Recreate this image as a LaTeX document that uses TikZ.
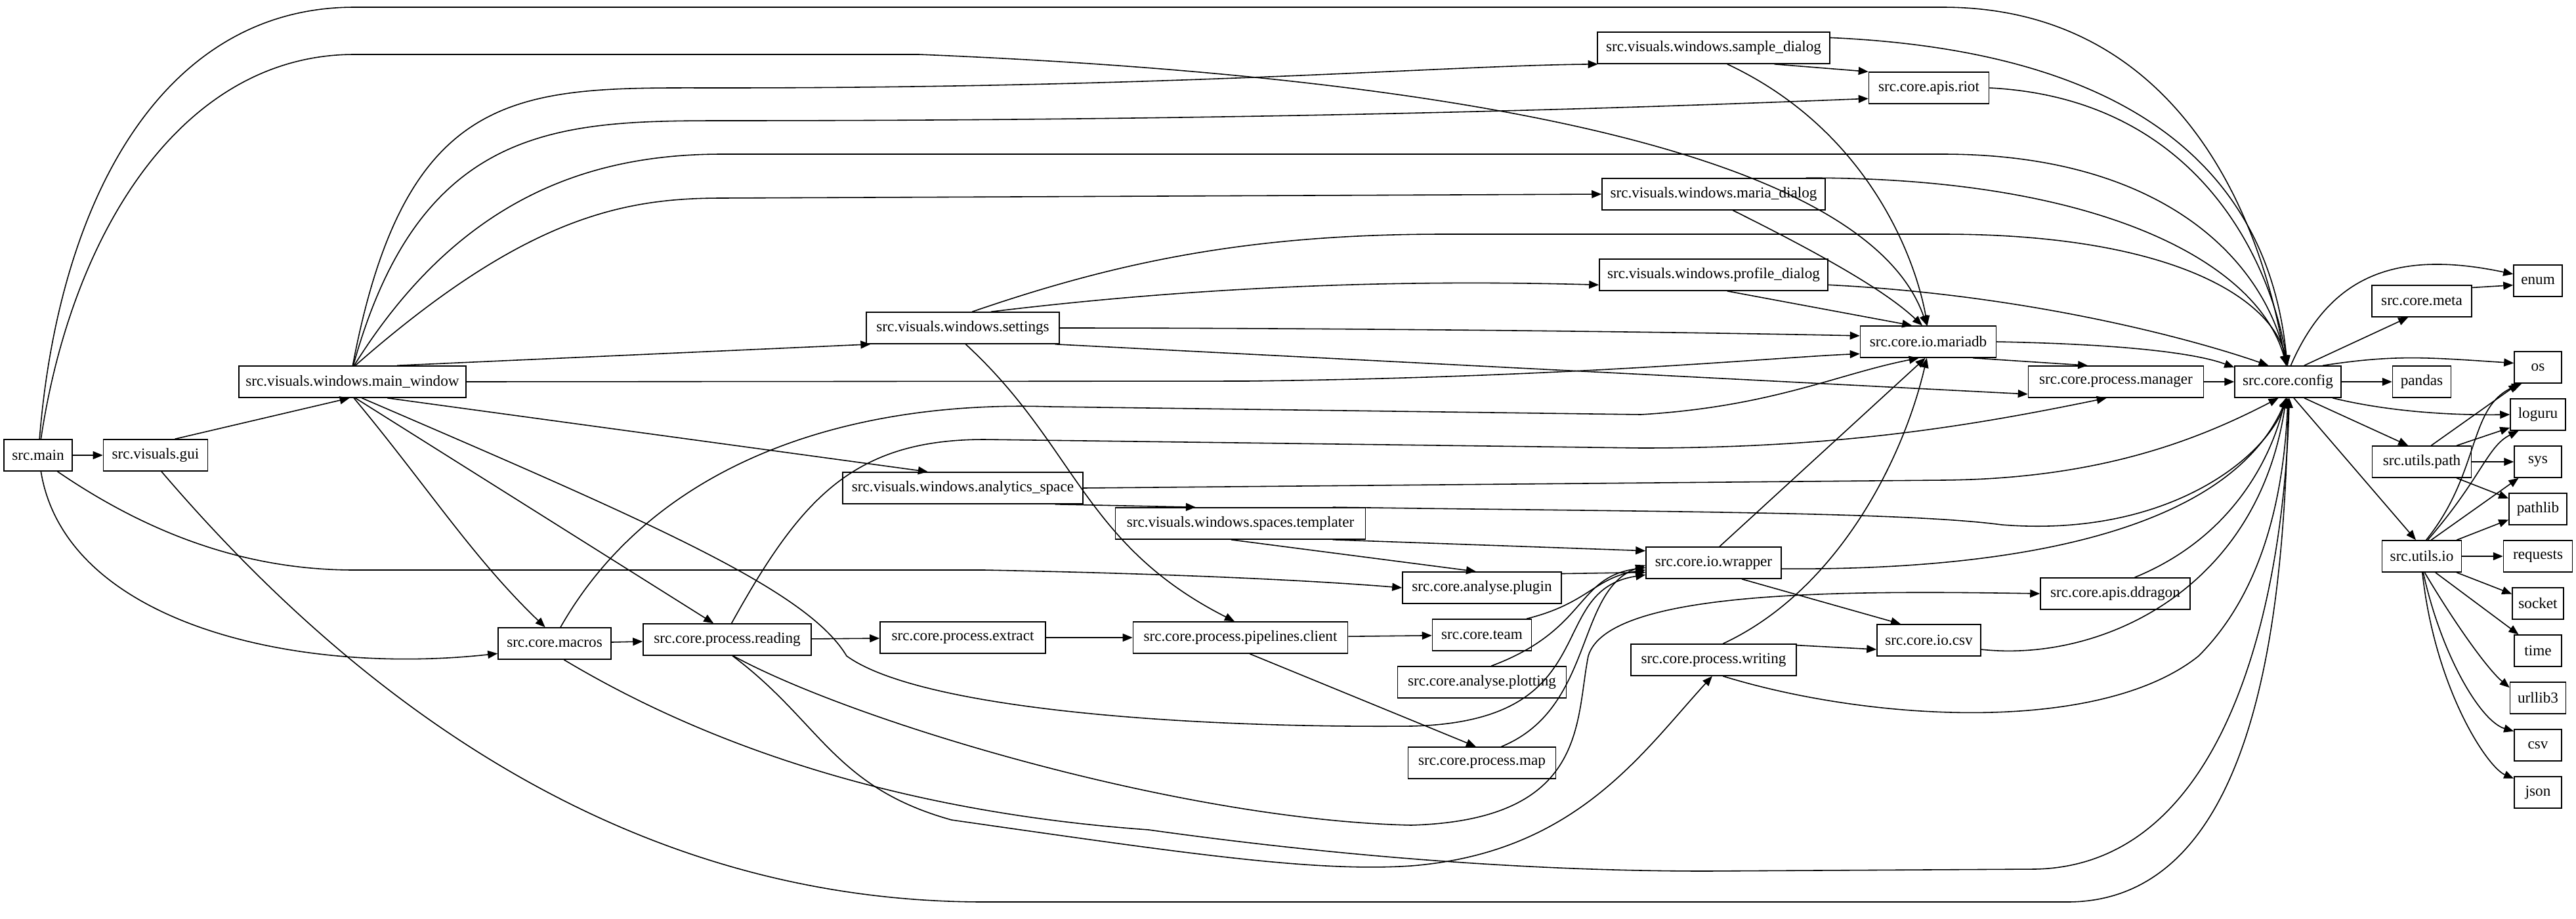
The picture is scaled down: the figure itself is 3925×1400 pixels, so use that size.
\documentclass[tikz,border=0pt]{standalone}
\usepackage{fontspec}
\setmainfont{Liberation Serif}
\usetikzlibrary{arrows.meta}
\begin{document}
\begin{tikzpicture}[x=0.02cm,y=-0.02cm,
  n/.style={draw,line width=0.9pt,minimum height=0.96cm,inner sep=0pt,font=\fontsize{13.2}{15}\selectfont},
  w/.style={minimum width=#1*0.02cm},
  e/.style={-{Triangle[length=0.3cm,width=0.24cm]},line width=0.9pt}]
\useasboundingbox (0,0) rectangle (3925,1400);
\node[n,w=104] (main) at (58,694) {src.main};
\node[n,w=159] (gui) at (237,694) {src.visuals.gui};
\node[n,w=346] (mainw) at (537,582) {src.visuals.windows.main\_window};
\node[n,w=294] (settings) at (1467,500) {src.visuals.windows.settings};
\node[n,w=366] (analytics) at (1467,744) {src.visuals.windows.analytics\_space};
\node[n,w=172] (macros) at (845,981) {src.core.macros};
\node[n,w=256] (reading) at (1108,975) {src.core.process.reading};
\node[n,w=252] (extract) at (1467,972) {src.core.process.extract};
\node[n,w=381] (templater) at (1890,798) {src.visuals.windows.spaces.templater};
\node[n,w=327] (client) at (1890,972) {src.core.process.pipelines.client};
\node[n,w=354] (sample) at (2611,73) {src.visuals.windows.sample\_dialog};
\node[n,w=183] (riot) at (2939,134) {src.core.apis.riot};
\node[n,w=340] (maria) at (2611,296) {src.visuals.windows.maria\_dialog};
\node[n,w=348] (profile) at (2611,419) {src.visuals.windows.profile\_dialog};
\node[n,w=207] (mariadb) at (2938,521) {src.core.io.mariadb};
\node[n,w=267] (manager) at (3224,582) {src.core.process.manager};
\node[n,w=162] (config) at (3486,582) {src.core.config};
\node[n,w=152] (meta) at (3690,459) {src.core.meta};
\node[n,w=74] (enum) at (3867,428) {enum};
\node[n,w=72] (os) at (3867,560) {os};
\node[n,w=89] (pandas) at (3690,582) {pandas};
\node[n,w=84] (loguru) at (3867,632) {loguru};
\node[n,w=151] (upath) at (3690,704) {src.utils.path};
\node[n,w=72] (sys) at (3867,704) {sys};
\node[n,w=88] (pathlib) at (3867,776) {pathlib};
\node[n,w=121] (uio) at (3690,848) {src.utils.io};
\node[n,w=105] (requests) at (3867,848) {requests};
\node[n,w=78] (socket) at (3867,920) {socket};
\node[n,w=72] (time) at (3867,992) {time};
\node[n,w=85] (urllib) at (3867,1064) {urllib3};
\node[n,w=72] (csvm) at (3867,1136) {csv};
\node[n,w=72] (json) at (3867,1208) {json};
\node[n,w=206] (wrapper) at (2611,858) {src.core.io.wrapper};
\node[n,w=242] (plugin) at (2258,896) {src.core.analyse.plugin};
\node[n,w=151] (team) at (2258,968) {src.core.team};
\node[n,w=257] (plotting) at (2258,1040) {src.core.analyse.plotting};
\node[n,w=225] (pmap) at (2258,1163) {src.core.process.map};
\node[n,w=252] (writing) at (2611,1006) {src.core.process.writing};
\node[n,w=158] (iocsv) at (2939,976) {src.core.io.csv};
\node[n,w=228] (ddragon) at (3223,905) {src.core.apis.ddragon};

% src.main
\draw[e] (main.85) .. controls (90,300) and (250,11) .. (540,11) -- (2960,11) .. controls (3300,11) and (3440,300) .. (config.97);
\draw[e] (main.80) .. controls (110,350) and (280,83) .. (540,83) -- (1400,83) .. controls (2300,120) and (2850,250) .. (mariadb.95);
\draw[e] (main) -- (gui);
\draw[e] (main.-40) .. controls (250,830) and (400,869) .. (540,869) -- (1500,869) .. controls (1800,875) and (2000,885) .. (plugin.west);
\draw[e] (main.-80) .. controls (100,950) and (450,1030) .. (macros.-170);
% gui
\draw[e] (gui.40) -- (mainw.-100);
\draw[e] (gui.-70) .. controls (700,1250) and (1150,1375) .. (1500,1375) -- (3150,1375) .. controls (3450,1375) and (3480,900) .. (config.-88);
% main_window
\draw[e] (mainw.89) .. controls (620,120) and (800,134) .. (1100,134) .. controls (1800,134) and (2200,100) .. (sample.-172);
\draw[e] (mainw.87) .. controls (640,190) and (850,184) .. (1100,184) .. controls (2000,184) and (2600,160) .. (riot.-170);
\draw[e] (mainw.84) .. controls (700,300) and (900,235) .. (1100,235) -- (2960,235) .. controls (3300,235) and (3450,400) .. (config.93);
\draw[e] (mainw.80) .. controls (800,330) and (950,302) .. (1100,302) -- (maria.west);
\draw[e] (mainw.east) -- (1900,581) .. controls (2400,575) and (2700,545) .. (mariadb.-170);
\draw[e] (mainw.20) -- (settings.-170);
\draw[e] (mainw.-25) -- (analytics.155);
\draw[e] (mainw.-85) .. controls (650,740) and (720,850) .. (macros.120);
\draw[e] (mainw.-80) -- (reading.130);
\draw[e] (mainw.-60) .. controls (1000,800) and (1230,900) .. (1290,1000) .. controls (1400,1080) and (1800,1110) .. (2150,1107) .. controls (2450,1100) and (2350,900) .. (wrapper.-170);
% settings
\draw[e] (settings.60) .. controls (1700,400) and (1900,357) .. (2200,357) -- (2960,357) .. controls (3300,357) and (3460,450) .. (config.90);
\draw[e] (settings.30) .. controls (1800,440) and (2100,425) .. (profile.-175);
\draw[e] (settings.east) .. controls (2000,500) and (2500,505) .. (mariadb.175);
\draw[e] (settings.-10) -- (manager.-172);
\draw[e] (settings.-80) .. controls (1640,680) and (1650,830) .. (client.110);
% analytics
\draw[e] (analytics.east) -- (2960,732) .. controls (3200,730) and (3350,670) .. (config.-120);
\draw[e] (analytics.-10) -- (templater.160);
% templater
\draw[e] (templater.10) .. controls (2500,780) and (2900,780) .. (3050,800) .. controls (3300,820) and (3450,700) .. (config.-92);
\draw[e] (templater.-10) -- (wrapper.170);
\draw[e] (templater.-120) -- (plugin.110);
% macros
\draw[e] (macros.70) .. controls (1000,700) and (1300,610) .. (1600,620) -- (2500,632) .. controls (2700,620) and (2800,570) .. (mariadb.-120);
\draw[e] (macros) -- (reading);
\draw[e] (macros.-60) .. controls (1100,1150) and (1400,1240) .. (1750,1265) .. controls (2000,1300) and (2300,1328) .. (2600,1328) -- (3100,1325) .. controls (3400,1320) and (3480,900) .. (config.-85);
% reading
\draw[e] (reading) -- (extract);
\draw[e] (reading.75) .. controls (1220,760) and (1300,670) .. (1500,670) -- (2500,683) .. controls (2800,683) and (3000,650) .. (manager.-120);
\draw[e] (reading.-70) .. controls (1300,1100) and (1800,1250) .. (2150,1258) .. controls (2420,1250) and (2400,1100) .. (2420,1000) .. controls (2450,900) and (2800,900) .. (ddragon.west);
\draw[e] (reading.-72) .. controls (1250,1100) and (1270,1200) .. (1450,1250) .. controls (1800,1300) and (2000,1330) .. (2150,1320) .. controls (2400,1300) and (2500,1150) .. (writing.-95);
\draw[e] (extract) -- (client);
\draw[e] (client) -- (team);
\draw[e] (client.-60) -- (pmap.110);
% wrapper inputs
\draw[e] (plugin.10) -- (wrapper.-172);
\draw[e] (team.20) .. controls (2420,920) and (2430,880) .. (wrapper.-174);
\draw[e] (plotting.60) .. controls (2420,960) and (2400,880) .. (wrapper.-176);
\draw[e] (pmap.40) .. controls (2430,1080) and (2400,900) .. (wrapper.-178);
% wrapper
\draw[e] (wrapper.70) -- (mariadb.-100);
\draw[e] (wrapper.-5) .. controls (3100,870) and (3400,800) .. (config.-94);
\draw[e] (wrapper.-30) -- (iocsv.150);
% writing
\draw[e] (writing.60) .. controls (2800,900) and (2900,700) .. (mariadb.-95);
\draw[e] (writing.10) -- (iocsv.-170);
\draw[e] (writing.-60) .. controls (2850,1100) and (3200,1120) .. (3350,1000) .. controls (3450,900) and (3480,750) .. (config.-90);
\draw[e] (iocsv.-10) .. controls (3200,1010) and (3440,900) .. (config.-96);
\draw[e] (ddragon.40) .. controls (3400,820) and (3460,700) .. (config.-98);
% dialogs
\draw[e] (sample.-15) -- (riot.165);
\draw[e] (sample.5) .. controls (3300,80) and (3460,300) .. (config.92);
\draw[e] (sample.-50) .. controls (2850,200) and (2920,400) .. (mariadb.93);
\draw[e] (riot.east) .. controls (3350,150) and (3460,400) .. (config.91);
\draw[e] (maria.-40) .. controls (2800,400) and (2880,450) .. (mariadb.110);
\draw[e] (maria.10) .. controls (3200,270) and (3440,400) .. (config.95);
\draw[e] (profile.-50) -- (mariadb.135);
\draw[e] (profile.-5) .. controls (3100,450) and (3350,520) .. (config.140);
\draw[e] (mariadb.-20) -- (manager.150);
\draw[e] (mariadb.east) .. controls (3250,525) and (3350,540) .. (config.165);
\draw[e] (manager) -- (config);
% config out
\draw[e] (config.80) .. controls (3550,420) and (3650,380) .. (enum.165);
\draw[e] (config.45) -- (meta.-130);
\draw[e] (config.25) .. controls (3650,540) and (3700,545) .. (os.170);
\draw[e] (config) -- (pandas);
\draw[e] (config.-20) .. controls (3650,630) and (3750,633) .. (loguru.west);
\draw[e] (config.-45) -- (upath.130);
\draw[e] (config.-70) -- (uio.110);
\draw[e] (meta.15) -- (enum.-170);
\draw[e] (upath.60) -- (os.-140);
\draw[e] (upath.25) -- (loguru.-155);
\draw[e] (upath) -- (sys);
\draw[e] (upath.-25) -- (pathlib.160);
\draw[e] (uio.75) .. controls (3780,720) and (3760,620) .. (os.-135);
\draw[e] (uio.70) .. controls (3780,730) and (3790,680) .. (loguru.-140);
\draw[e] (uio.60) -- (sys.-140);
\draw[e] (uio.25) -- (pathlib.-160);
\draw[e] (uio) -- (requests);
\draw[e] (uio.-25) -- (socket.160);
\draw[e] (uio.-50) -- (time.140);
\draw[e] (uio.-80) .. controls (3740,950) and (3790,1020) .. (urllib.160);
\draw[e] (uio.-85) .. controls (3720,1000) and (3780,1100) .. (csvm.150);
\draw[e] (uio.-88) .. controls (3710,1050) and (3790,1170) .. (json.150);
\end{tikzpicture}
\end{document}
